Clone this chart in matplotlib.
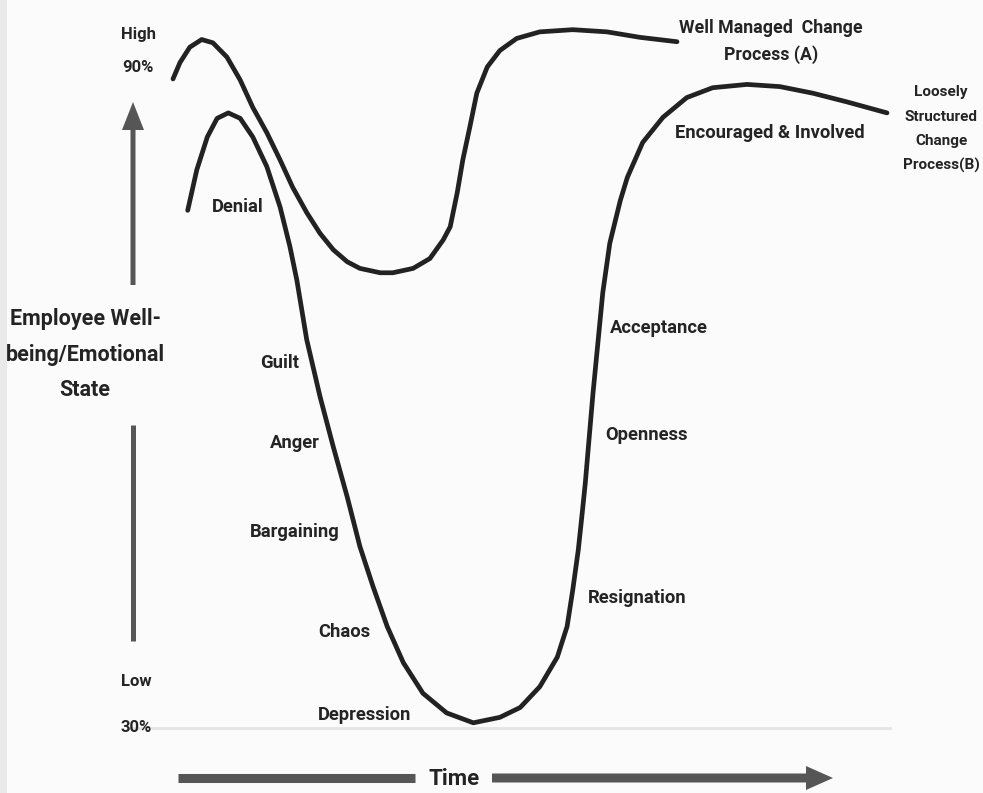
import matplotlib
matplotlib.use("Agg")
import matplotlib.pyplot as plt
from matplotlib.patches import FancyArrow, Rectangle

W, H = 983, 793

# well managed change process (A): time (arbitrary units), wellbeing (%)
time_a = [-1.0, 0.0, 1.4, 3.1, 4.7, 6.7, 8.6, 10.4, 12.4, 14.3, 16.1, 18.1,
          20.0, 21.9, 23.9, 25.7, 28.6, 30.4, 33.3, 35.7, 37.6, 38.6, 39.6,
          40.4, 41.4, 42.4, 43.9, 45.7, 48.1, 51.4, 56.1, 61.0, 65.7, 71.0]
well_a = [89.0, 90.5, 91.9, 92.6, 92.3, 91.0, 88.9, 86.4, 84.1, 81.6, 79.1,
          76.8, 74.9, 73.4, 72.3, 71.7, 71.3, 71.3, 71.7, 72.6, 74.3, 75.5,
          78.6, 81.6, 84.6, 87.7, 90.1, 91.6, 92.7, 93.3, 93.5, 93.3, 92.8,
          92.4]

# loosely structured change process (B)
time_b = [1.1, 2.4, 3.9, 5.3, 6.9, 8.6, 10.4, 12.4, 14.3, 15.7, 16.7, 18.1,
          20.0, 21.9, 23.9, 25.7, 27.6, 29.6, 31.9, 34.7, 38.1, 41.9, 45.7,
          48.6, 51.4, 53.9, 55.3, 56.1, 56.9, 57.4, 57.9, 58.3, 59.0, 59.7,
          60.4, 61.4, 62.9, 63.9, 66.1, 69.0, 72.4, 76.1, 81.0, 85.7, 90.4,
          95.3, 101.0]
well_b = [77.0, 80.7, 83.7, 85.4, 85.9, 85.4, 83.7, 81.0, 77.3, 73.7, 70.6,
          65.2, 60.0, 55.4, 50.8, 46.3, 42.6, 39.0, 35.7, 32.9, 31.1, 30.2,
          30.7, 31.6, 33.5, 36.2, 39.0, 42.3, 46.0, 49.0, 52.1, 55.1, 60.3,
          64.9, 69.5, 74.0, 77.9, 80.0, 83.2, 85.5, 87.3, 88.2, 88.5, 88.3,
          87.7, 86.9, 85.9]

stages_left = ["Denial", "Guilt", "Anger", "Bargaining", "Chaos", "Depression"]
stages_right = ["Resignation", "Openness", "Acceptance", "Encouraged & Involved"]
y_title = ["Employee Well-", "being/Emotional", "State"]

plt.rcParams["font.family"] = ["Roboto", "Liberation Sans", "DejaVu Sans"]
plt.rcParams["font.weight"] = "bold"

fig = plt.figure(figsize=(W / 100, H / 100), dpi=100)
fig.patch.set_facecolor("#fbfbfb")

# overlay in pixel coords for arrows and labels
ov = fig.add_axes([0, 0, 1, 1])
ov.set_xlim(0, W)
ov.set_ylim(H, 0)
ov.axis("off")

ov.add_patch(Rectangle((0, 0), 7, H, color="#e9e9e9", lw=0))
ov.plot([130, 890], [728, 728], color="#e4e4e4", lw=2, zorder=0)

grey = "#565656"
ink = "#242424"
# vertical axis arrow and line
ov.add_patch(FancyArrow(133, 285, 0, -155, width=5, head_width=22,
                        head_length=28, length_includes_head=False,
                        color=grey, lw=0))
ov.plot([133, 133], [425, 641], color=grey, lw=3.6, solid_capstyle="butt")
# time arrow
ov.plot([178, 415], [778, 778], color=grey, lw=6.5, solid_capstyle="butt")
ov.add_patch(FancyArrow(492, 778, 314, 0, width=9, head_width=24,
                        head_length=27, length_includes_head=False,
                        color=grey, lw=0))
ov.text(454, 779, "Time", ha="center", va="center", fontsize=16, color=ink)

ov.text(138, 35, "High", ha="center", va="center", fontsize=12, color=ink)
ov.text(138, 67, "90%", ha="center", va="center", fontsize=12, color=ink)
ov.text(136, 682, "Low", ha="center", va="center", fontsize=12, color=ink)
ov.text(136, 727, "30%", ha="center", va="center", fontsize=12, color=ink)
for s, yy in zip(y_title, [319, 355, 390]):
    ov.text(85, yy, s, ha="center", va="center", fontsize=15.5, color=ink)

left_pos = [(212, 207), (260, 363), (270, 443), (250, 532), (318, 632), (318, 715)]
for s, (xx, yy) in zip(stages_left, left_pos):
    ov.text(xx, yy, s, ha="left", va="center", fontsize=13.2, color=ink)
right_pos = [(588, 598), (605, 435), (610, 328), (675, 133)]
for s, (xx, yy) in zip(stages_right, right_pos):
    ov.text(xx, yy, s, ha="left", va="center", fontsize=13.2, color=ink)

ov.text(771, 28, "Well Managed  Change", ha="center", va="center",
        fontsize=12.8, color=ink)
ov.text(771, 55, "Process (A)", ha="center", va="center", fontsize=12.8, color=ink)
for s, yy in zip(["Loosely", "Structured", "Change", "Process(B)"],
                 [92, 117, 141, 165]):
    ov.text(941, yy, s, ha="center", va="center", fontsize=11, color=ink)

# curves in data coords
ax = fig.add_axes([0, 0, 1, 1])
ax.patch.set_alpha(0)
ax.set_xlim((0 - 180) / 7, (W - 180) / 7)
ax.set_ylim(30 - 68 / 10.95, 30 + 725 / 10.95)
ax.axis("off")
ax.plot(time_a, well_a, color="#222222", lw=3.4, solid_joinstyle="round",
        solid_capstyle="round")
ax.plot(time_b, well_b, color="#222222", lw=3.4, solid_joinstyle="round",
        solid_capstyle="round")

fig.savefig("out.png", dpi=100, facecolor=fig.get_facecolor())
